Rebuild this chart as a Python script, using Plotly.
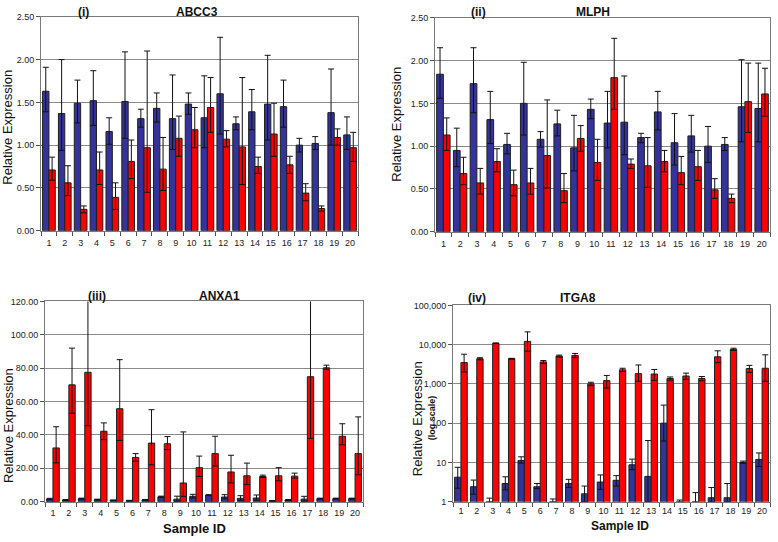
import plotly.graph_objects as go

W, H = 778, 542

samples = [str(i) for i in range(1, 21)]

# ---------------- (i) ABCC3 ----------------
abcc3_blue = [1.63, 1.37, 1.49, 1.52, 1.16, 1.51, 1.31, 1.43, 1.31, 1.48,
              1.32, 1.60, 1.25, 1.39, 1.48, 1.45, 1.00, 1.02, 1.38, 1.12]
abcc3_blue_up = [0.28, 0.63, 0.27, 0.35, 0.16, 0.58, 0.11, 0.18, 0.51, 0.13,
                 0.49, 0.66, 0.08, 0.26, 0.57, 0.31, 0.08, 0.08, 0.51, 0.21]
abcc3_blue_dn = [0.24, 0.43, 0.23, 0.29, 0.15, 0.43, 0.10, 0.16, 0.36, 0.12,
                 0.35, 0.47, 0.07, 0.21, 0.42, 0.24, 0.08, 0.07, 0.38, 0.17]
abcc3_red = [0.71, 0.56, 0.25, 0.71, 0.39, 0.81, 0.97, 0.72, 1.08, 1.18,
             1.44, 1.07, 0.98, 0.75, 1.13, 0.77, 0.44, 0.26, 1.09, 0.97]
abcc3_red_up = [0.15, 0.20, 0.04, 0.21, 0.17, 0.25, 1.13, 0.37, 0.26, 0.26,
                0.35, 0.10, 0.81, 0.11, 0.36, 0.10, 0.11, 0.03, 0.10, 0.18]
abcc3_red_dn = [0.12, 0.15, 0.04, 0.17, 0.14, 0.20, 0.52, 0.25, 0.21, 0.21,
                0.29, 0.09, 0.44, 0.08, 0.26, 0.10, 0.09, 0.03, 0.09, 0.16]

# ---------------- (ii) MLPH ----------------
mlph_blue = [1.84, 0.95, 1.73, 1.31, 1.02, 1.50, 1.08, 1.26, 0.98, 1.43,
             1.27, 1.28, 1.10, 1.40, 1.04, 1.12, 1.00, 1.02, 1.46, 1.44]
mlph_blue_up = [0.31, 0.26, 0.42, 0.33, 0.13, 0.48, 0.09, 0.16, 0.38, 0.12,
                0.37, 0.54, 0.05, 0.24, 0.34, 0.24, 0.23, 0.08, 0.55, 0.53]
mlph_blue_dn = [0.28, 0.19, 0.34, 0.28, 0.11, 0.37, 0.09, 0.14, 0.27, 0.11,
                0.29, 0.38, 0.06, 0.21, 0.26, 0.19, 0.19, 0.07, 0.41, 0.39]
mlph_red = [1.13, 0.68, 0.57, 0.82, 0.55, 0.57, 0.89, 0.48, 1.09, 0.81,
            1.80, 0.79, 0.77, 0.82, 0.69, 0.76, 0.49, 0.39, 1.52, 1.61]
mlph_red_up = [0.20, 0.19, 0.17, 0.15, 0.17, 0.17, 0.65, 0.20, 0.15, 0.27,
               0.46, 0.06, 0.33, 0.13, 0.19, 0.19, 0.13, 0.05, 0.45, 0.30]
mlph_red_dn = [0.18, 0.13, 0.13, 0.12, 0.13, 0.13, 0.38, 0.14, 0.15, 0.21,
               0.37, 0.05, 0.25, 0.12, 0.14, 0.16, 0.10, 0.05, 0.36, 0.26]

# ---------------- (iii) ANXA1 ----------------
anxa1_blue = [1.6, 1.0, 1.8, 1.2, 0.8, 0.6, 1.0, 2.9, 1.5, 3.2,
              3.9, 2.8, 2.0, 2.2, 0.5, 1.0, 1.5, 1.8, 1.8, 1.8]
anxa1_blue_up = [0.4, 0.3, 0.3, 0.3, 0.2, 0.2, 0.3, 0.4, 1.8, 1.2,
                 0.3, 1.4, 1.6, 1.8, 0.2, 0.3, 1.7, 0.3, 0.3, 0.3]
anxa1_blue_dn = [0.4, 0.3, 0.3, 0.3, 0.2, 0.2, 0.3, 0.4, 1.2, 1.0,
                 0.3, 1.1, 1.2, 1.3, 0.2, 0.3, 1.2, 0.3, 0.3, 0.3]
anxa1_red = [32.2, 70.0, 77.5, 42.2, 55.7, 26.5, 35.1, 34.7, 11.2, 20.4,
             28.8, 17.8, 15.5, 15.1, 15.5, 15.3, 74.9, 80.2, 39.2, 28.8]
anxa1_red_up = [12.7, 22.0, 45.0, 5.0, 29.4, 2.3, 20.0, 4.3, 30.6, 6.9,
                10.4, 10.0, 7.6, 0.8, 4.9, 1.8, 50.0, 1.6, 7.5, 22.0]
anxa1_red_dn = [9.0, 17.0, 32.0, 5.0, 19.0, 2.2, 13.0, 3.5, 8.0, 5.3,
                7.4, 6.6, 5.3, 0.6, 3.0, 1.2, 37.0, 0.8, 5.1, 12.7]

# ---------------- (iv) ITGA8 (log scale) ----------------
itga8_blue = [4.2, 2.4, 1.0, 2.9, 11.2, 2.4, 1.0, 2.9, 1.58, 3.16,
              3.5, 8.7, 4.4, 100.0, 1.0, 1.0, 1.26, 1.26, 10.0, 11.9]
itga8_blue_up = [3.3, 1.15, 0.23, 1.4, 2.7, 0.5, 0.17, 0.8, 0.92, 1.64,
                 1.1, 3.4, 31.6, 188.0, 0.1, 0.7, 1.04, 1.64, 0.8, 5.5]
itga8_blue_dn = [2.0, 0.85, 0.1, 0.9, 1.6, 0.25, 0.1, 0.6, 0.58, 1.1,
                 1.0, 2.2, 3.4, 65.0, 0.05, 0.5, 0.26, 0.26, 0.5, 4.0]
itga8_red = [3480, 4370, 10800, 4370, 12100, 3630, 5100, 5300, 1000, 1210,
             2280, 1820, 1780, 1370, 1590, 1370, 4900, 7600, 2460, 2500]
itga8_red_up = [2220, 270, 200, 100, 9000, 300, 300, 660, 100, 430,
                220, 1210, 550, 130, 290, 170, 2050, 500, 500, 3000]
itga8_red_dn = [1480, 270, 200, 100, 5300, 300, 300, 660, 100, 430,
                220, 650, 550, 130, 290, 170, 1420, 500, 500, 1330]

log_tickvals = [1, 10, 100, 1000, 10000, 100000]
log_ticktext = ["1", "10", "100", "1,000", "10,000", "100,000"]

BLUE = "#333399"
RED = "#FF0000"
OUTLINE = "#1f1f1f"
FONT = "Liberation Sans, Arial, sans-serif"

fig = go.Figure()


def add_pair(n, blue, bup, bdn, red, rup, rdn):
    xa = "x" if n == 1 else f"x{n}"
    ya = "y" if n == 1 else f"y{n}"
    for vals, up, dn, color in ((blue, bup, bdn, BLUE), (red, rup, rdn, RED)):
        fig.add_trace(go.Bar(
            x=samples, y=vals, xaxis=xa, yaxis=ya,
            marker=dict(color=color, line=dict(color=OUTLINE, width=1)),
            error_y=dict(type="data", symmetric=False, array=up, arrayminus=dn,
                         color="#111111", thickness=1, width=3),
            showlegend=False, hoverinfo="x+y",
        ))


add_pair(1, abcc3_blue, abcc3_blue_up, abcc3_blue_dn, abcc3_red, abcc3_red_up, abcc3_red_dn)
add_pair(2, mlph_blue, mlph_blue_up, mlph_blue_dn, mlph_red, mlph_red_up, mlph_red_dn)
add_pair(3, anxa1_blue, anxa1_blue_up, anxa1_blue_dn, anxa1_red, anxa1_red_up, anxa1_red_dn)
add_pair(4, itga8_blue, itga8_blue_up, itga8_blue_dn, itga8_red, itga8_red_up, itga8_red_dn)


def px_x(x0, x1):
    return [x0 / W, x1 / W]


def px_y(top, bottom):
    return [1 - bottom / H, 1 - top / H]


boxes = {
    1: ((41, 358), (12, 230)),
    2: ((435, 770), (13, 231)),
    3: ((45, 363), (302, 506)),
    4: ((453, 770), (306, 506)),
}

axis_common_x = dict(type="category", tickson="boundaries", ticks="outside", ticklen=4,
                     tickcolor="#555555", showline=True, linecolor="#7a7a7a", linewidth=1,
                     mirror=True, showgrid=False, tickangle=0, ticklabelstandoff=3,
                     tickfont=dict(size=9, color="#222222", family=FONT),
                     fixedrange=True)
axis_common_y = dict(showgrid=True, gridcolor="#8a8a8a", gridwidth=1, showline=True,
                     linecolor="#7a7a7a", linewidth=1, mirror=True, ticks="outside", ticklen=4,
                     tickcolor="#555555", zeroline=False,
                     tickfont=dict(size=9, color="#222222", family=FONT), fixedrange=True)

layout = {}
for n, ((x0, x1), (t, b)) in boxes.items():
    xk = "xaxis" if n == 1 else f"xaxis{n}"
    yk = "yaxis" if n == 1 else f"yaxis{n}"
    layout[xk] = dict(axis_common_x, domain=px_x(x0, x1), anchor="y" if n == 1 else f"y{n}")
    layout[yk] = dict(axis_common_y, domain=px_y(t, b), anchor="x" if n == 1 else f"x{n}")

layout["yaxis"].update(range=[0, 2.5], dtick=0.5, tickformat=".2f")
layout["yaxis2"].update(range=[0, 2.5], dtick=0.5, tickformat=".2f")
layout["yaxis3"].update(range=[0, 120], dtick=20, tickformat=".2f")
layout["yaxis4"].update(type="log", range=[0, 5], tickvals=log_tickvals, ticktext=log_ticktext)
layout["xaxis4"].update(ticklabelstandoff=1)

fig.update_layout(**layout)


def ann(text, x, y, size, bold=False, angle=0):
    if bold:
        text = f"<b>{text}</b>"
    fig.add_annotation(text=text, x=x / W, y=1 - y / H, xref="paper", yref="paper",
                       showarrow=False, xanchor="center", yanchor="middle", textangle=angle,
                       font=dict(size=size, color="#111111", family=FONT))


# panel titles
ann("(i)", 83, 7, 12, True)
ann("ABCC3", 197, 7, 12, True)
ann("(ii)", 478, 7, 12, True)
ann("MLPH", 593, 7, 12, True)
ann("(iii)", 97, 296, 12, True)
ann("ANXA1", 219, 296, 12, True)
ann("(iv)", 477, 298, 12, True)
ann("ITGA8", 578, 298, 12, True)

# y axis titles
ann("Relative Expression", 8, 125, 13, False, -90)
ann("Relative Expression", 397, 122, 13, False, -90)
ann("Relative Expression", 8, 429, 13, False, -90)
ann("Relative Expression", 417, 422, 13, False, -90)
ann("(log scale)", 432, 421, 9, True, -90)

# x axis titles
ann("Sample ID", 195, 533, 13, True)
ann("Sample ID", 620, 531, 12, True)

fig.update_layout(
    width=W, height=H, margin=dict(l=0, r=0, t=0, b=0),
    paper_bgcolor="white", plot_bgcolor="white",
    barmode="group", bargap=0.2, bargroupgap=0.0,
    font=dict(family=FONT, size=9, color="#222222"),
)

fig.write_html(
    "out.html",
    config={"displayModeBar": False},
    post_script="document.body.style.margin='0px';document.body.style.overflow='hidden';",
)
